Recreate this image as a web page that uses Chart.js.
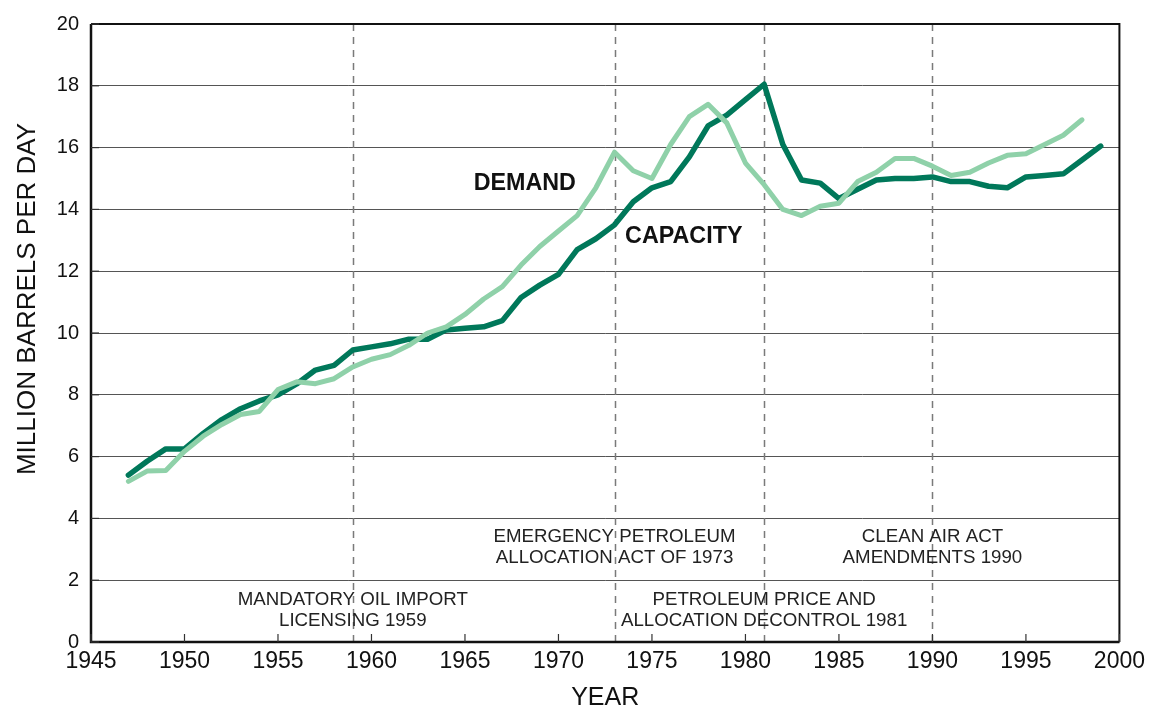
<!doctype html>
<html>

<head>
  <script src="https://cdn.jsdelivr.net/npm/chart.js@4/dist/chart.umd.min.js"></script>
</head>

<body style="margin:0;background:#fff">
  <div style="width:1151px;height:711px;">
    <canvas id="canvas"></canvas>
  </div>
  <script>
    const capYears = [1947, 1948, 1949, 1950, 1951, 1952, 1953, 1954, 1955, 1956, 1957, 1958, 1959, 1960,
      1961, 1962, 1963, 1964, 1965, 1966, 1967, 1968, 1969, 1970, 1971, 1972, 1973, 1974, 1975, 1976,
      1977, 1978, 1979, 1980, 1981, 1982, 1983, 1984, 1985, 1986, 1987, 1988, 1989, 1990, 1991, 1992,
      1993, 1994, 1995, 1996, 1997, 1998, 1999];
    const capacity = [5.4, 5.85, 6.25, 6.25, 6.75, 7.2, 7.55, 7.8, 8.0, 8.35, 8.8, 8.95, 9.45, 9.55,
      9.65, 9.8, 9.8, 10.1, 10.15, 10.2, 10.4, 11.15, 11.55, 11.9, 12.7, 13.05, 13.5, 14.25, 14.7, 14.9,
      15.7, 16.7, 17.05, 17.55, 18.05, 16.1, 14.95, 14.85, 14.35, 14.65, 14.95, 15.0, 15.0, 15.05, 14.9, 14.9,
      14.75, 14.7, 15.05, 15.1, 15.15, 15.6, 16.05];

    const demYears = capYears.slice(0, 52);
    const demand = [5.2, 5.53, 5.55, 6.17, 6.66, 7.04, 7.36, 7.46, 8.17, 8.42, 8.36, 8.52, 8.9, 9.15,
      9.3, 9.6, 10.0, 10.2, 10.6, 11.1, 11.5, 12.2, 12.8, 13.3, 13.8, 14.7, 15.85, 15.25, 15.0, 16.1,
      17.0, 17.4, 16.8, 15.5, 14.8, 14.0, 13.8, 14.1, 14.2, 14.9, 15.2, 15.65, 15.65, 15.4, 15.1, 15.2,
      15.5, 15.75, 15.8, 16.1, 16.4, 16.9];

    // policy events: year, label lines, label height (data units)
    const eventYears = [1959, 1973, 1981, 1990];
    const eventLabels = [
      ['MANDATORY OIL IMPORT', 'LICENSING 1959'],
      ['EMERGENCY PETROLEUM', 'ALLOCATION ACT OF 1973'],
      ['PETROLEUM PRICE AND', 'ALLOCATION DECONTROL 1981'],
      ['CLEAN AIR ACT', 'AMENDMENTS 1990']
    ];
    const eventLabelY = [1.35, 3.4, 1.35, 3.4];

    const seriesLabels = ['DEMAND', 'CAPACITY'];
    const seriesLabelPos = [[1968.2, 14.82], [1976.7, 13.12]];

    const yTitle = 'MILLION BARRELS PER DAY';

    const darkGreen = '#00785a';
    const lightGreen = '#8fd1a9';

    const extras = {
      id: 'extras',
      beforeDatasetsDraw(chart) {
        const {ctx, chartArea: a, scales: {x, y}} = chart;
        ctx.save();
        // event lines
        ctx.strokeStyle = '#7a7a7a';
        ctx.lineWidth = 1.5;
        ctx.setLineDash([7, 6]);
        eventYears.forEach((yr) => {
          const px = Math.round(x.getPixelForValue(yr)) + 0.5;
          ctx.beginPath();
          ctx.moveTo(px, a.top);
          ctx.lineTo(px, a.bottom);
          ctx.stroke();
        });
        ctx.setLineDash([]);
        // event labels
        ctx.fillStyle = '#222';
        ctx.font = '18.7px "Liberation Sans", Arial, sans-serif';
        ctx.textAlign = 'center';
        ctx.textBaseline = 'middle';
        eventLabels.forEach((lines, i) => {
          const px = x.getPixelForValue(eventYears[i]);
          const py = y.getPixelForValue(eventLabelY[i]);
          lines.forEach((t, j) => ctx.fillText(t, px, py + j * 21));
        });
        ctx.restore();
      },
      afterDatasetsDraw(chart) {
        const {ctx, chartArea: a, scales: {x, y}} = chart;
        ctx.save();
        // frame
        ctx.strokeStyle = '#111';
        ctx.lineWidth = 2;
        ctx.beginPath();
        ctx.moveTo(a.left, a.top);
        ctx.lineTo(a.right, a.top);
        ctx.lineTo(a.right, a.bottom);
        ctx.stroke();
        ctx.lineWidth = 2.5;
        ctx.beginPath();
        ctx.moveTo(a.left, a.top);
        ctx.lineTo(a.left, a.bottom);
        ctx.lineTo(a.right, a.bottom);
        ctx.stroke();
        // inward ticks
        ctx.lineWidth = 1.2;
        ctx.strokeStyle = '#333';
        x.ticks.forEach((t) => {
          const px = x.getPixelForValue(t.value);
          ctx.beginPath();
          ctx.moveTo(px, a.bottom);
          ctx.lineTo(px, a.bottom - 8);
          ctx.stroke();
        });
        y.ticks.forEach((t) => {
          const py = y.getPixelForValue(t.value);
          ctx.beginPath();
          ctx.moveTo(a.left, py);
          ctx.lineTo(a.left + 8, py);
          ctx.stroke();
        });
        // series labels
        ctx.fillStyle = '#111';
        ctx.font = 'bold 23.3px "Liberation Sans", Arial, sans-serif';
        ctx.textAlign = 'center';
        ctx.textBaseline = 'middle';
        seriesLabels.forEach((t, i) => {
          ctx.fillText(t, x.getPixelForValue(seriesLabelPos[i][0]), y.getPixelForValue(seriesLabelPos[i][1]));
        });
        // y axis title, sits a bit above the middle of the axis
        ctx.font = '26px "Liberation Sans", Arial, sans-serif';
        ctx.translate(28, y.getPixelForValue(11.1));
        ctx.rotate(-Math.PI / 2);
        ctx.fillText(yTitle, 0, 0);
        ctx.restore();
      }
    };

    new Chart(document.getElementById('canvas'), {
      type: 'line',
      data: {
        datasets: [{
          label: 'Demand',
          data: demYears.map((yr, i) => ({x: yr, y: demand[i]})),
          borderColor: lightGreen,
          borderWidth: 5,
          order: 0
        }, {
          label: 'Capacity',
          data: capYears.map((yr, i) => ({x: yr, y: capacity[i]})),
          borderColor: darkGreen,
          borderWidth: 5.5,
          order: 1
        }]
      },
      options: {
        responsive: true,
        maintainAspectRatio: false,
        animation: false,
        layout: {padding: {top: 20, right: 31, left: 0, bottom: 0}},
        elements: {
          point: {radius: 0},
          line: {tension: 0, borderJoinStyle: 'round', borderCapStyle: 'round'}
        },
        plugins: {
          legend: {display: false},
          tooltip: {enabled: false}
        },
        scales: {
          x: {
            type: 'linear',
            min: 1945,
            max: 2000,
            afterFit: (s) => { s.height = 69; },
            grid: {display: false, drawTicks: false},
            border: {display: false},
            ticks: {
              stepSize: 5,
              padding: 6,
              color: '#111',
              font: {family: '"Liberation Sans", Arial', size: 23},
              callback: (v) => String(v)
            },
            title: {
              display: true,
              text: 'YEAR',
              color: '#111',
              padding: {top: 0, bottom: 0},
              font: {family: '"Liberation Sans", Arial', size: 25, lineHeight: 1}
            }
          },
          y: {
            min: 0,
            max: 20,
            afterFit: (s) => { s.width = 91; },
            grid: {color: '#555', lineWidth: 1, drawTicks: false},
            border: {display: false},
            ticks: {
              stepSize: 2,
              padding: 12,
              color: '#111',
              font: {family: '"Liberation Sans", Arial', size: 20}
            }
          }
        }
      },
      plugins: [extras]
    });
  </script>
</body>

</html>
